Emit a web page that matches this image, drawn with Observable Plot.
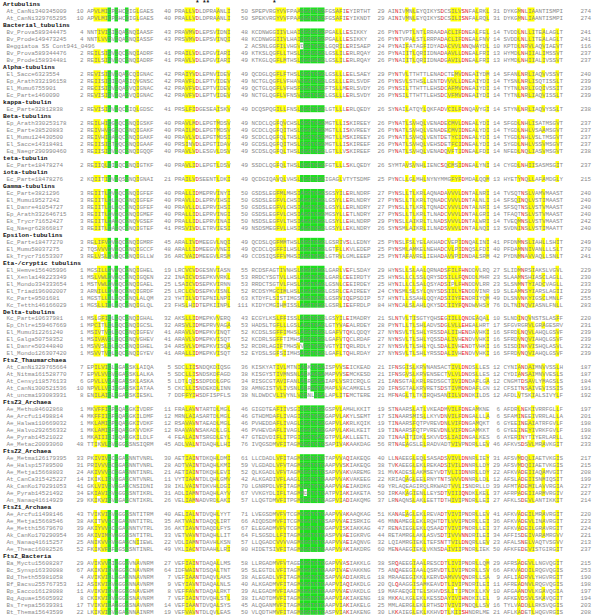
<!DOCTYPE html>
<html><head><meta charset="utf-8">
<script src="https://cdn.jsdelivr.net/npm/d3@7"></script>
<script src="https://cdn.jsdelivr.net/npm/@observablehq/plot@0.6"></script>
<style>body{margin:0;background:#fff}</style>
</head><body><div id="chart"></div>
<script>
// ---------- DATA ----------
const headers = ["Artubulins","Bacterial_tubulins","Alpha-tubulins","kappa-tubulin","Beta-tubulins","teta-tubulin","iota-tubulin","Gamma-tubulins","Epsilon-tubulins","Eta-/cryptic tubulins","Delta-tubulins","FtsZ_Thaumarchaea","FtsZ3_Archaea","FtsZ2_Archaea","FtsZ1_Archaea","FtsZ_Bacteria"];
const groupSizes = [2,5,4,1,5,1,1,6,3,6,6,5,6,7,6,8];
const names = ["At_CanNi340345009","At_CanNi329765295",
"Bv_Prova589344475","Bv_Prode149473245","Beggiatoa SS Cont941_0496","Bv_Prova589344476","Bv_Prode158934481",
"El_Sacce6323554","Ep_Arath332196158","El_Mumu6755901","Ec_Parte1460090",
"Ec_Parte32812838",
"Ep_Arath330253178","Ec_Parte38520883","El_Mumu124430500","El_Sacce14318481","Eq_Naegr290990460",
"Ec_Parte18478274",
"Ec_Parte18478276",
"Ec_Parte3821296","El_Mumu19527242","El_Danre41054727","Ep_Arath332646715","Ek_Trycr71652427","Eq_Naegr62866817",
"Ec_Parte18477270","El_Mumu58037275","Ek_Trycr71653307",
"El_Hemve156405996","El_Xenla148223349","El_Mondo334333654","El_Triad196002007","Kc_Parte9501681","Kc_Tetth146166029",
"Kc_Parte10637981","Ep_Chlre159467669","El_Mumu312261240","El_Galga50758352","El_Danre50344840","El_Mondo126307420",
"At_CanNi329765664","At_Nitma161528770","At_Censy118576133","At_CanNi300521536","At_uncma193083931",
"Ae_Methu84602868","Ae_Arcfu11498814","Ae_Halwa110669032","Ae_Halvo292656332","Ae_Pyrab14521022","Ae_Metac20093060",
"Ae_Metma126179395","Ae_Halsp15789500","Ae_Metja15668803","At_CanCa315425227","Ak_CanKo170291053","Ae_Pyrab14521492","An_Nanaq41614929",
"Ae_Arcfu11498146","Ae_Metja15668546","Ae_Metth15679670","Ak_CanKo170290954","An_Nanaq41615257","Ae_Theac16082526",
"Ba_Myctu15608287","Bc_Synsp16330088","Bd_Theth55981058","Bf_Bacsu255767353","Bp_Eacco16128088","Bq_Aquae15605992","Bs_Trepa15639381","Bt_Thema15643599"];
const n1 = [10,10, 4,4,"",2,2, 2,2,2,2, 2, 2,2,2,2,3, 2, 2, 3,3,3,3,3,3, 3,2,3, 1,1,1,3,1,1, 1,1,1,1,1,1, 7,7,6,10,8, 1,4,1,1,1,48, 33,31,24,14,41,34,29, 43,38,39,36,25,52, 29,67,4,12,11,8,17,22];
const s1 = ["APVLMICPGHCQIGLGAES","APVLMICPGHCQIGLGAES",
"NNTIVISIGQAGNQIAASF","NNTLVVSVGQAGNQIASSF","","REILSIHVGQCGNQIADRF","REILSIHVGQCGNQIADRF",
"REVISINVGQAGCQIGNAC","REIISIHIGQAGIQVGNSC","RECISIHVGQAGVQIGNAC","REVISIHVGQAGVQIGNAC",
"REVISIHVGQCGIQLGDSC",
"REILHIQGGQCGNQIGSKF","REIVHVQGGQCGNQIGAKF","REIVHIQAGQCGNQIGAKF","REIISIETQQCGNQIGAAF","REIISIHVGQCGNQIGQQF",
"REIIQLQIGQCGNQIGTKF",
"KQIITIQVGQSGNQIGNAI",
"REIITLQVGQCGNQIGFEF","REIITLQLGQCGNQIGFEF","REIITLQLGQCGNQIGFEF","REIITLQVGQCGNQIGMEF","REIITLQAGQCGNQVGSEF","REIITLQAGQCGNQIGTEF",
"RELIFVQVGQCGNQIGMRF","TQSVVVQVGQCGNQIGCCF","RELVSLQVGQCGNQIGLLW",
"MGSILLPVVQCGNQIGHEL","MSLVWLQVGQCGNQIGQEN","MSTVWLQVGQCGNQIGAEL","ARNILLQVGQCGNQIGRDF","MGSTLLNLGQCGNQLALQM","MGSLLIDLGQCGNQIGLQL",
"MSLGFIQLGQCGNQIGHAL","MPCITLQLGQCGNQIGCSL","MSIVTVQLGQCGNQIGFEV","MSIVAVQLGQCGNQVGHEV","MSVVSLQLGQCGNQIGHEL","MSVVTVQLGQCGNQIGYEV",
"EPILVIGLGGAGSKLAIQA","EPVLVVGVGGAGSKLALKA","GPVLLVGAGGAGSKLASKA","NPVLLVGIGGAGSKIATAA","ENILAIGLGGAGSKIESKL",
"MKVFFIGPGQAGGKIVDRF","MKFFIIGFGQAGGKILDMF","MKLAMIGPGQAGGKIVDKF","MKLAMIGFGQAGGKVVDKF","MKAIIIGIGQAGGKILDLF","TTIKVLGVGGGGSNSIQRM",
"PKIVIVGCGGAGNNTVNRL","PRIVVVGCGGAGNNTVNRL","AKIVVVGCGGAGNNTINRL","IKIKLIGVGGAGCNTVNRL","GKLVIVGVGGAGCNSIDNI","EKIAVIGVGGGGSNTIKRL","KKIKVIGVGGAGCNTIKRL",
"TVIKVIGVGGGGSNTITRM","AKITVVGCGGAGNNTITRL","AKIYVVGCGGAGNNTVTRL","AKIVIMGVGGGGSNTITRL","ANIKVVGVGGAGCNIIEWL","FKIKVFGFGGSGSNTINRL",
"AVIKVVGIGGGGVNAVNRM","AKIKVIGVGGGGCNAVNRM","AVIKVIGLGGAGNNAVNRM","ASIKVIGVGGGGNNAVNRM","AVIKVIGVGGGGGNAVEHM","CKIKVIGVGGGGSNAVNRM","TVIKVIGAGGGGSNAVNRM","LKIKVIGVGGAGNNAINRM"];
const n2 = [40,40, 43,43,"",41,41, 42,42,42,42, 41, 40,40,40,40,40, 40, 21, 40,40,40,40,40,41, 45,48,36, 19,22,25,25,23,23, 32,32,41,41,34,41, 5,5,5,5,7, 11,12,12,12,4,45, 30,28,21,11,38,31,26, 40,35,36,33,22,49, 27,64,7,9,8,7,14,19];
const s2 = ["PRALLVDLDPRAANLI","PRALLVDLDPRAANLI",
"PRAVMVDLEPSVIDNI","PRSVMVDLEPSVINQI","","PRAILVDLEPGVIARI","PRAVLVDLEPGVIARI",
"PRAIYVDLEPNVIDEV","PRAVFLDLEPTVIDEV","PRAVFVDLEPTVIDEV","PRAVFVDLEPTVIDEV",
"PRSLFIDGESEAISKV",
"PRAVLMDLEPGTMDSV","PRAILMDLEPGTMDSV","PRAVLVDLEPGTMDSI","PRSINVDLEPGTIDAV","PRAVLVDLESGVLDSV",
"PRAVLIDLEPGTLDSV",
"PRAILVDSEENTLDKI",
"PRALLIDMEPRVINYI","PRAVLLDLEPRVIHSI","PRAVLLDLEPRVIHSI","PRALLIDLEPRVINGI","PRALLIDLEPRVINAI","PRSVIVDLETRVIESI",
"ARALIVDMEEGVLNQI","ARALLIDMEEGVVNEI","ARCVAIDMEEGVLRSM",
"LRCVCVDGESNVIASN","INAICVDSEPKVVRKL","LSAICVDSEPKVIRNN","LRCLCVDSEPKVISNL","YHTILVDTEPNILNPI","FHSLHIDTEPKIINPL",
"AKSLLIDMEPKVVERQ","ARSVLIDMEPRVVAGA","ARAVLVDMEPKVINQT","ARAVLVDMEPKVISQT","ARSVLVDMEPKVISQA","ARALLIDMEPKVISQT",
"SDCLIISNDQKDIQSG","SDCLLISNDSKDFAGD","LDTLQISSDPDDLGPG","CKCLLISNDEKDLINN","DDFFYIHSDFISPFLS",
"FRALAVNTARTDLMGL","MRNLAIASARTDLMGL","RSAVAVNTAEADLMGL","RAAVAVNSAKADLLGL","FEALAINTSRGDLEYL","ADLVALNTDAQHLLHI",
"AETIAINTDKQHLDMI","ADTVAINTDAQHLKMI","AETIAINTDKQHLEVI","VYTIAANTDLQHLGMV","IKLVAINTDKVHLDGI","ADLIAMNTDAQHLAYV","VELIAMNADVRDLAKI",
"AELIALNTDVQHLYYT","AKTVAINTDAQQLIRT","AKTIAVNTDAQDLFYS","VETVAVNTDAQHLLIT","VDLIAMNTDAVHLKSN","VKLIACNTDAAHLLRI",
"VEFIAINTDAQALLMS","IDFWAINTDSQALTNT","VEFIAANTDAQVLAKS","VEYIAVNTDAQALNLS","VEFFAVNTDAQALRKT","VEFIAINTDVQHLSTL","VEFIAANTDVQALSYS","VEFVAVNTDLQVLEAS"];
const n3 = [50,50, 48,48,2,49,49, 49,49,49,49, 49, 49,49,49,49,49, 49, 49, 50,50,50,50,50,49, 49,49,49, 55,53,53,52,63,111, 43,53,52,52,52,52, 36,38,34,38,38, 46,46,46,46,47,76, 61,59,52,42,70,67,57, 71,66,67,64,57,80, 58,95,38,40,39,38,45,50];
const s3 = ["SPEPVRGYVVFPAAGGGTGSSFGSAFIEYIRTHT","SPEKVRGYVVFPAAGGGTGSSFGSAFIEYIKNDT",
"KCDNWGGIIVLHAIGGGGGSGPGALLLESIKKY","KCDNWGGIIVLHAIGGGGGSGPGALLLESIKKY","ACSNLGGFILVHGVDGGTGSGLGQRILERISAEP","KTKSLQGFLLTHSLGGGGGSGLGSLILERLRQAY","KTKGLQGFLMTHSLGGGGGSGLGSLILERLRQAY",
"QCDGLQGFLFTHSLGGGTGSGLGSLLLEELSAEY","NCTGLQGFLVFHAVGGGTGSGLGSLLLERLSVDF","QCTGLQGFLVFHSFGGGTGSGFTSLLMERLSVDY","NCTGLQGFLVFNSVGGGTGSGLGSLLLERLSVDY",
"DCQSPQGILLFNSLGGGTGSGLGTLLLERLQEDY",
"NCDCLQGFQVCHSLGGGTGSGMGTLLISKIREEY","GCDCLQGFQITHSLGGGTGSGMGTLLISKVREEY","SCDCLQGFQLTHSLGGGTGSGMGTLLMSKIREEY","GCDSLQGFQITHSLGGGTGSGMGTLLISKIREEF","SCDSLQGFQLTHSLGGGTGSGLGTLLVSKIREEF",
"SSDCLQGFQLTHSLGGGTGSGFGTLLLSKLQEDY",
"QCDGIQAVQLVHSLTGGTGSGIGAGLVTYTSDMF",
"GSDSLEGFMLMHSIAGGTGSGSGSYILERLNDRF","GSDSLEGFVLCHSIAGGTGSGLGSYLLERLNDRY","GSDSLEGFVLCHSIAGGTGSGLGSYLLERLNDRY","GSDSLEGFVLCHSIAGGTGSGMGSYLLETLNDRY","NSDSLEGFVLTHSIAGGTGSGLGSYLLEHLNDRP","NSDSMEGFVLLHSIAGGTGSGLGSYLLEKLNDRY",
"QCDSLQGFMMTHSLGGGTGSGLGSRIVSLLEDNY","QCDCLQGFFILHSLGGGTGSGLGTFLLKVLEDEP","CCDSIQSFFVMHSIGGGTGSGLGTRVLGMLEEEP",
"RCDSFAGTIVNHSLGGGTGSGLGARLVEFLSDAY","RRDCYSGTVLLHSLGGGTGSGLGARLCEEIRDTY","RRDCTSGTVLFHSLGGGTGAGLGSNLCEEIRDEY","RCDSYMGCIMLHSLCGGTGSGLGSRLCEAIREEY","KTDYFLSISTIMGSAGGTGSGLGSRVIQEPSDIP","KIDYCMGIHMISSLAGGTGSGLGSRLIEEFRDLP",
"ECGYLKSLFFISSLAGGTGSGLGSYILEIMADRY","HADSLTGFLLLGSLAGGTGAGLGTYVAEALRDEY","KCDSLSGFFIMHSLAGGTGSGLGAFVTQKLQDQY","KCDRLSGFFTIMHSAGGTGSGLGAFVTQCLRDAF","RCDRLAGIFTMHSVVGGTGSGVGTYITQRLRDLY","EYDSLSGFSIIMHSAGGTGSGLGAFLTQHLRDAY",
"KISKYATIVLMTNIAGKTGSAISPVVSEICKEAD","KISGYSTIVMNSNLAGKAGSAMAPVVSEMCKESD","RISGCGTAVIFANLAGRSGSAIAPLVSRICRQLG","AMNGISTVLIVSNLAGRAGTAMAPLVACAMKELS","NLDWDCVLIVYNLVGSNLGSALAPLITEMCTERE",
"GIGDTEAFIIVSGIGGGTGSGGSPVLAMHLKKIT","GTHDMDAFLIVAGIGGGTGSGGAPVLAKYLSEMT","PVHEDDAFLIVAGLGGGTGSGGAPVLAKRLKQIK","PVHEVDAFLIVAGLGGGTGSGGAPVLAKHLKEIT","GTEDVDIFLITPGIGGGTGAGGTPVLAKLLEETL","IVQGSDMVFITAGMGGGTGTGSAPIVAKAAKDAG",
"LLCDADLVFITAGMGGGTGTGTAPVVAQIAKEQG","VLGDADLVFVTAGMGGGTGTGAAPVVSKIAKEQG","QLKGADLVFVTAGMGGGTGTGSAPVVAKVAREMG","ALKGADIVFLAAGLGGGTGTGAAPVVAKVAKEEG","LGNRPDLVFITAGMGGGTGTGAAPVVAEIAKDKG","VVKGYDLIFLTAGMMDGTGTGATPVIAKIAKETA","LLQGTDMVFITPGMGGGTGTGAGPVIADIAKQMG",
"LVEGSDMVFVTCGMGGGTGTGAAPVVAKAAQKAG","AIQDSDMVFITCGMGGGTGTGSAPVVAEISRKIG","ELEGADMVFVTCGMGGGTGTGGAPVISKIAKKAG","FLSGSDLLFITAGMGGGTGTGASPVVAEIGKRVG","LLQGADCVVVVAGMGGGTGTGAAPVVAEIAQNVG","HIDETSIVFITAGMGGGTGTGAAPVVAKIAKDRG",
"LLRGADMVFVTAGEGGGTGTGGAPVVASIAKKLG","SLEGTDLVFITAGMGGGTGTGAAPIVAEVAKKNG","ALEGADLVFITAGMGGGTGTGSAPVVADIAKRLG","ALKGADMVFITAGMGGGTGTGAAPVIAQIAKDLG","ALEGADMVFIAAGMGGGTGTGAAPVVAEVAKDLG","ILADTDMVFITAGMGGGTGTGAAPVIAKIAKENG","ALQGANMVFITAGMGGGTGTGAAPVIAKIAKELG","VLQDTHMVFITAGMGGGTGTGASPVIAKIAKENG"];
const n4 = [29,29, 26,26,24,26,26, 29,26,26,26, 26, 26,26,26,26,26, 26, 25, 27,27,27,27,29,26, 25,25,25, 29,25,25,24,57,84, 21,28,27,27,27,27, 21,21,21,20,21, 19,17,19,19,20,56, 40,38,31,22,49,50,37, 51,46,47,44,32,60, 38,75,18,20,19,18,25,30];
const s4 = ["AINIVMNLEYQIKYSDCSILVSNFALRKL","AINIVMNLEYQIKYSDCSILISNFALRQL",
"PYNTVPTLNTLRRAADACLIFDNEALFEL","PYNTVPALSTLRRPADACLIFDNEALFNV","PYNAIFATAGFIDYADACVVLNNQWAYDL","PYNAIITLQRIIDNADAAVLLDNEALFRI","PYNAIITLQRIIDNADGAVILDNEALFRI",
"PYNTVLTTHTTLENADCTEMVDNEAIYDM","PYNSVLSTHSLLENTDVVVLLDNEAIYDI","PYNSILTTHTTLEHSDCAFMVDNEAIYDI","PYNSILTTHTTLEHSDCVFMVDNEAIYDI",
"SYNAILATQYLQKFADVCILFDNQAVYGI",
"PYNATLSVHQLVENADECMVLDNEALYDI","PYNATLSVHQLVENADECMVIDNEALYDI","PYNATLSVHQLVENTDETYCIDNEALYDI","PYNATLSVHQLVEHSDETFCIDNEALYDI","PYNATLSVHQLVENADQVFTIDNEALFDI",
"SYMTAVSVNHLIENCSQCMSIDNEALYNI",
"PYNCLLGLMHLNYNYMMGFYFDMDALQQM",
"PYNSLLTLKRLAQNADAVVVLDNTALNRI","PYNSLLTLKRLTQNADCVVVLDNTALNLI","PYNSLLTLKRLTQNADCVVVLDNTALNRI","PYNSLLTLKRLTLNADCVVVLDNTALGRI","PYNSLLAIKRLTLNADSVVVLDNTALWRI","SYNSMLAIKRLILNADSVVVLDNTALNQI",
"PYNSLFSLYELAKHADCVEPIDNQALINI","PYNSMLAMKELNEHADCVLPIDNQSLFDI","PYNTAFAVRELIEHADAVVPIDNDALSRM",
"HYNSLLSLAALQRNADSFILFHNDDVLRQ","HYNSLLCLSSLQRYSDSILLFQNDDLMHR","HYNILLCLSALQSYADSIPLFHNDDVLRR","CYNSMLSLSYLQNYSDSIILYENDDVINR","HYNTLLSSAHLQQYADSIIYFENDRIYQM","HYNCALSLAHLQKYSDCIIYFQNDWVHSY",
"SLNTVLTISGTYQHSEGIILLQNDEAQAL","PYNTLLTLSHLADVSDGLVLLEHEALHRT","NYNSVLTLSHLYRSSDALIIHENDAVHKI","NYNSVLTLSHLYQSSDALIVHENDVVHKI","NYNSVLTLSHLYQLSDALIVHENDTVHKI","NYNSVLTLSHLYRSSDALIVHENDVVHKI",
"IFNSGISLKRVNANSACTIVLDNDSLLES","IFNSGVSLKRVENSECTVLVLDNDSLLES","IANSGTALKRLREDSGCTIVIDNDAFLGA","IFNSGTALKRVRETSDSTIVMDNDAFLGN","MFNAGLTLTKIRQHSANIILVDNDKILDS",
"STNAARSLATLVKEADMVILFDNEAMKNE","SINAARSMISLLKYVDNVILFDNGALLLA","TINAARSFQTPVREVDNLVIFDNGAMQKT","TINAARSFQTPVREVDNLVIFDNGAMKKT","TINAAITIDKLSKVVDSLIAIDNGALKES","RTNAEAGSLELRADVADTVIVPNDRLLEV",
"LLNAEEGLEQLSASADSVIVLDNNRLIEY","TVKAEEGLEKLREKADSIVILDNNRLLDY","MVKADESLAKMSEYVDTVLIIDNNRLLDY","KRIAQAGLEELRNYTNTSVVVDNNRLLDL","YRLAQEAGIRQLRKWADTVVLISNDRLLD","IRKAKAGIENLLEYSDTVIIIQNDKLKEL","LRNAQNSLAKLEETTDTHIVIPNDRLLEI",
"KANAEAGLEKLREVADTVIVIPNDRLLEV","MNNAMEGLEKLRQHTDTLVVIPNDRLLEI","RENAIEGLEKLQSAADTVIVIPNDRLLEI","RETAMRGLAKLASVSDTIVVVNNDRILEI","LQIAMRGIEKLTEFSNTTVILDNQRLLEV","MENAAEGIEKLVKNSDAIVIIPNDRLIEK",
"SRQAEEGIAALRESCDTLIVIPNDRLLQM","ANQAEEGIAALQSRVDTLIVIPNDRLLSV","MRAAEEGIKKLKERVDAMVVVQNDRLLSA","QLQAAGGISAMKEAVDTLIVIPNDRILEI","MAFAEQGITELSKHVDSLITIPNDKLLKV","MKKALKGLEKLKESSDAYIVIHNDKILEL","MMLAERGLEKLRTHSDTVIVIPNDQLLSV","LKKAIEGLEKLKKHVDTLKIISHNDRLME"];
const n5 = [31,31, 14,14,10,13,13, 14,14,14,14, 14, 14,14,14,14,14, 14, 13, 14,14,14,14,14,13, 41,40,42, 27,23,23,19,49,76, 10,17,16,16,16,16, 12,12,12,12,12, 6,6,6,6,6,46, 31,29,22,12,39,37,27, 41,36,37,34,23,50, 29,66,9,11,10,9,16,21];
const s5 = ["DYKGMNLIAANTISMPI","DYKGMNLIAANTISMPI",
"TVDDLNLLITEALAGLT","SVDDLNLLITEALAGLT","KPTDLNRVLAQVIAEVT","HYMDLNHIIALIMSSVT","HYMDLNHIIALIVSSVT",
"SFANLNRLIAQVVSSVT","TYSNLNRLISQTISSLT","TYTNLNRLIGQIVSSIT","TYTNLNRLIAQVISSLT",
"STYNLNRLIAQVYSSLT",
"SFGDLNHLISATMSGVT","TYGDLNHLVSAAMSGVT","TYGDLNHLVSLTMSGVT","SYGDLNHLVSSVMSGVT","NFEDLNQLIASVMSGVT",
"CYGDLNHIISASMSGIT",
"HYETYNQLLAFAMDGLY",
"TVSQTNSLVAMVMAAST","SFSQINQLVSTIMAAST","SFSQTNSLVSTVMAAST","TFAQTNSLVSTVMAAST","TVEQMNSLVSTVMAAST","SVDNINSLVSTIMAATT",
"PFDNMNSLIAHLLSHIT","PFDAMNNIVANLLLSLT","PYDNMNAVVAQLLSNLT",
"SLIDMNRSIAKSLVGVL","SLAAMNSHIASCLAGLL","SLSNMNTYIADCVAGLL","SLEAMNSYIARSLAGII","DLSNVNKYIGSCLMNLF","DLTNINQVIASNLFNLL",
"SLNDINQVNSTSLASFF","SFGVRGRVLGRAGESRV","SFRDLNQVLAHQLGSVF","SFRDVNQVIAHQLGSVF","SISDINKVISHQLASVL","SFRDVNQVIAHQLGSVF",
"CYNIANDAIMNVVSSLH","CYDIANSAIMNVVESLS","CNGMTDSAVLYMAGSLS","CFSITNSAIVEVISSIS","AFDLVTSKIALSIVYLF",
"AFDRLNEKIVRRFGLLF","SFAMINEEIVRRLALLA","GYEEINEAIATRFGVLF","GYEEINEYIVRKFGVLF","AYERINYTIYERLARLL","AFKVSDSVLMRAVKGIT",
"AFSVMDQLIAETVKGIS","AFSVMDQIIAETVKGIS","AFKVADEIIAQAMVGIT","AFSLADEIISNMIQSIT","AFMTADEMILAVVRGIA","AFRPADEIIARMVRGIV","AFKLSDEVLANTIKKIT",
"AFKVADEILMRAVRGIT","AFKVADEVLINAVRGIT","AFKVADEILGRAVRGIT","AFFISDEIVARAMRGVV","AFALSNELVAQTVSGVV","AFKFEDEVISTGIRGIT",
"AFRSADEVLLNGVQGIT","AFKVADDILRQGVQGIS","AFLIADRVLYHGVRGIT","AFREADNVLRQGVQGIS","AFGAANDVLKGAVQGIA","AFKEVDSVLSKAVQGIT","TYLVADDLLRKSVQGIS","AFLKADETLHQGVRGIS"];
const nEnd = [274,274, 241,241,116,237,237, 240,239,239,239, 238, 237,237,237,237,238, 237, 215, 240,240,240,240,242,240, 249,270,241, 229,230,233,229,255,283, 220,231,239,239,232,239, 187,187,184,191,192, 197,201,198,198,192,233, 217,215,208,199,227,227,214, 220,223,224,221,213,237, 215,253,190,198,197,194,203,208];

// conserved columns (index within each block)
const yellowCols = [[2,3,4,5,14],[3,4,5,12,15],[7,8,9,13,24,25],[5,7,10,17,18,19,20,25,28],[4,7,8,11,15]];
const greenCols  = [[6,8,11],[],[14,15,16,17,18,19,20],[],[]];
const greenAny   = [true, false, false, false, false]; // block 1 columns are shaded whatever the residue
const redCols    = [[],[6],[27],[2,15,21,22],[5]];
const starCols   = [[1,6],[1,8],[1,9],[2,6]]; // [block, column]

// ---------- LAYOUT (column / row units) ----------
const blockStart = [23,48,70,109,142];
const blockLen = [19,16,34,29,17];
const endCol = 167;
const CW = 3.5, X0 = 6, RH = 6.98, Y0 = 4;

const rows = [];
let k = 0;
headers.forEach((h, g) => {
  rows.push({type: "h", label: h});
  for (let j = 0; j < groupSizes[g]; j++, k++) rows.push({type: "s", i: k});
});
rows.forEach((r, idx) => r.row = idx);

const hydro = "AVILMFWYC";
const smallRes = "GASTCM";
const chars = [], cells = [], nums = [], labels = [];
const seqs = [s1, s2, s3, s4, s5], nn = [n1, n2, n3, n4, n5];
for (const r of rows) {
  if (r.type === "h") { labels.push({x: -1, y: r.row, t: r.label, h: true}); continue; }
  labels.push({x: 0, y: r.row, t: names[r.i], h: false});
  for (let b = 0; b < 5; b++) {
    const s = seqs[b][r.i];
    if (nn[b][r.i] !== "") nums.push({x: blockStart[b] - 1, y: r.row, t: String(nn[b][r.i])});
    for (let c = 0; c < Math.min(s.length, blockLen[b]); c++) {
      const ch = s[c];
      if (ch === " ") continue;
      let bg = null, red = false;
      if (greenCols[b].includes(c) && (greenAny[b] || smallRes.includes(ch))) bg = "g";
      else if (yellowCols[b].includes(c) && hydro.includes(ch)) bg = "y";
      if (redCols[b].includes(c) && "DNEQHKS".includes(ch)) red = true;
      const col = blockStart[b] + c;
      chars.push({x: col + 0.5, y: r.row, ch, red});
      if (bg) cells.push({x1: col, x2: col + 1, y1: r.row - 0.5, y2: r.row + 0.5, bg});
    }
  }
  nums.push({x: endCol, y: r.row, t: String(nEnd[r.i])});
}
const stars = starCols.map(([b, c]) => ({x: blockStart[b] + c + 0.5, y: -0.3}));

const mono = "'Liberation Mono', 'DejaVu Sans Mono', monospace";
const chart = Plot.plot({
  width: 600, height: 616, margin: 0,
  x: {domain: [-X0 / CW, (600 - X0) / CW], range: [0, 600], axis: null},
  y: {domain: [-Y0 / RH, (616 - Y0) / RH], range: [0, 616], axis: null},
  color: {domain: ["y", "g"], range: ["#ffff00", "#1ee01e"]},
  style: {background: "#fff"},
  marks: [
    Plot.rect(cells, {x1: "x1", x2: "x2", y1: "y1", y2: "y2", fill: "bg", inset: 0}),
    Plot.text(chars, {x: "x", y: "y", text: "ch", fill: d => d.red ? "#e8202a" : "#8a8a8a", fontFamily: mono, fontSize: 5.9, fontWeight: d => d.red ? "bold" : "normal"}),
    Plot.text(nums, {x: "x", y: "y", text: "t", textAnchor: "end", fill: "#8a8a8a", fontFamily: mono, fontSize: 5.9}),
    Plot.text(labels.filter(d => !d.h), {x: "x", y: "y", text: "t", textAnchor: "start", fill: "#8a8a8a", fontFamily: mono, fontSize: 5.9}),
    Plot.text(labels.filter(d => d.h), {x: "x", y: "y", text: "t", textAnchor: "start", fill: "#111", fontFamily: mono, fontSize: 6.2, fontWeight: "bold"}),
    Plot.text(stars, {x: "x", y: "y", text: () => "*", fill: "#111", fontFamily: mono, fontSize: 7, fontWeight: "bold"})
  ]
});
document.getElementById("chart").append(chart);
</script>
</body></html>
